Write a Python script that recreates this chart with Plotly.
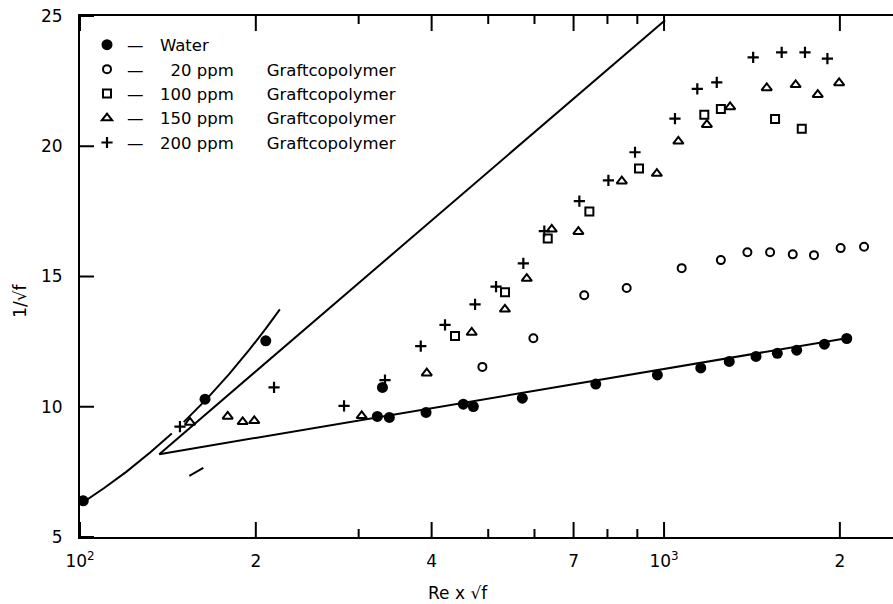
import plotly.graph_objects as go

# ---- data ----
water_x = [101.3, 163.7, 208, 322.9, 329.5, 338.6, 391.3, 453.2, 471.5, 571.9, 764, 974,
           1155.7, 1293, 1437, 1563, 1687, 1882, 2055]
water_y = [6.39, 10.29, 12.53, 9.63, 10.74, 9.59, 9.78, 10.10, 10.01, 10.33, 10.87, 11.22,
           11.49, 11.74, 11.93, 12.05, 12.17, 12.40, 12.62]

ppm20_x = [488.6, 597.4, 730, 863, 1072, 1251, 1389, 1519, 1661, 1806, 2006, 2200]
ppm20_y = [11.53, 12.63, 14.28, 14.56, 15.32, 15.63, 15.93, 15.93, 15.85, 15.82, 16.09, 16.14]

ppm100_x = [438.6, 534.2, 632.2, 745, 906, 1172, 1251, 1549, 1721]
ppm100_y = [12.72, 14.40, 16.46, 17.50, 19.15, 21.21, 21.43, 21.05, 20.67]

ppm150_x = [154.3, 179, 189.9, 198.8, 303.6, 392.4, 468.5, 534, 582, 642.3, 713.4, 846.6,
            972, 1058, 1184, 1297.5, 1499, 1680, 1833, 1994]
ppm150_y = [9.40, 9.63, 9.42, 9.46, 9.65, 11.29, 12.85, 13.74, 14.92, 16.81, 16.72, 18.66,
            18.95, 20.19, 20.83, 21.51, 22.24, 22.36, 21.98, 22.43]

ppm200_x = [148.3, 214.9, 283.2, 332.8, 383.2, 421.7, 474.7, 515.6, 574.2, 623.7, 716.1, 803,
            891.8, 1044, 1140, 1231, 1421, 1590, 1743, 1904]
ppm200_y = [9.24, 10.74, 10.03, 11.02, 12.33, 13.14, 13.93, 14.61, 15.50, 16.74, 17.89, 18.69,
            19.77, 21.06, 22.20, 22.45, 23.41, 23.60, 23.60, 23.36]

# reference curves
laminar_a_x = [100, 110, 120, 132, 143.6]
laminar_a_y = [6.25, 6.88, 7.5, 8.25, 8.97]
laminar_b_x = [150.5, 165, 180, 195, 208, 219.9]
laminar_b_y = [9.41, 10.31, 11.25, 12.19, 13.0, 13.74]
pk_x = [136.7, 2089]
pk_y = [8.18, 12.66]
mdr_x = [136.7, 1004]
mdr_y = [8.18, 24.84]
stray_x = [153.9, 162.6]
stray_y = [7.35, 7.65]

x_range_log = [2, 3.392]
y_range = [5, 25]
x_tickvals = [100, 200, 400, 700, 1000, 2000]
x_ticktext = ["10<sup>2</sup>", "2", "4", "7", "10<sup>3</sup>", "2"]
x_minorvals = [300, 500, 600, 800, 900]
y_tickvals = [5, 10, 15, 20, 25]

series_names = [
    "\u2014\u2003Water",
    "\u2014\u2003\u200720 ppm\u2003\u2003Graftcopolymer",
    "\u2014\u2003100 ppm\u2003\u2003Graftcopolymer",
    "\u2014\u2003150 ppm\u2003\u2003Graftcopolymer",
    "\u2014\u2003200 ppm\u2003\u2003Graftcopolymer",
]

FONT = "DejaVu Sans"
BLACK = "black"
PLOT_TOP, PLOT_BOTTOM, PLOT_LEFT, PLOT_RIGHT = 16, 537, 80, 893
MAJOR_LEN, MINOR_LEN, Y_TICK_LEN = 15, 8, 14

fig = go.Figure()

for lx, ly in [(laminar_a_x, laminar_a_y), (laminar_b_x, laminar_b_y), (pk_x, pk_y),
               (mdr_x, mdr_y), (stray_x, stray_y)]:
    fig.add_trace(go.Scatter(x=lx, y=ly, mode="lines", line=dict(color=BLACK, width=2),
                             showlegend=False, hoverinfo="skip"))

fig.add_trace(go.Scatter(x=water_x, y=water_y, mode="markers", name=series_names[0],
                         marker=dict(symbol="circle", size=11, color=BLACK)))
fig.add_trace(go.Scatter(x=ppm20_x, y=ppm20_y, mode="markers", name=series_names[1],
                         marker=dict(symbol="circle-open", size=8, color=BLACK,
                                     line=dict(width=2, color=BLACK))))
fig.add_trace(go.Scatter(x=ppm100_x, y=ppm100_y, mode="markers", name=series_names[2],
                         marker=dict(symbol="square-open", size=8, color=BLACK,
                                     line=dict(width=2, color=BLACK))))
fig.add_trace(go.Scatter(x=ppm150_x, y=ppm150_y, mode="markers", name=series_names[3],
                         marker=dict(symbol="triangle-up-open", size=9, color=BLACK,
                                     line=dict(width=2, color=BLACK))))
fig.add_trace(go.Scatter(x=ppm200_x, y=ppm200_y, mode="markers", name=series_names[4],
                         marker=dict(symbol="cross-thin", size=8, color=BLACK,
                                     line=dict(width=2.2, color=BLACK))))

# inward tick marks (bottom & top of x axis, left y axis), placed at the tick values
tick_line = dict(color=BLACK, width=2)
shapes = []
for vals, length in [(x_tickvals, MAJOR_LEN), (x_minorvals, MINOR_LEN)]:
    for v in vals:
        shapes.append(dict(type="line", xref="x", yref="paper", ysizemode="pixel",
                           yanchor=0, x0=v, x1=v, y0=0, y1=length, line=tick_line))
        shapes.append(dict(type="line", xref="x", yref="paper", ysizemode="pixel",
                           yanchor=1, x0=v, x1=v, y0=0, y1=-length, line=tick_line))
for v in y_tickvals:
    shapes.append(dict(type="line", xref="paper", yref="y", xsizemode="pixel",
                       xanchor=0, x0=0, x1=Y_TICK_LEN, y0=v, y1=v, line=tick_line))

annotations = [
    dict(text="Re x \u221af", xref="paper", yref="paper", x=0.465, y=-0.108,
         xanchor="center", yanchor="middle", showarrow=False,
         font=dict(family=FONT, size=17, color=BLACK)),
    dict(text="1/\u221af", xref="paper", yref="paper", x=-0.074, y=0.453,
         xanchor="center", yanchor="middle", showarrow=False, textangle=-90,
         font=dict(family=FONT, size=17, color=BLACK)),
]

fig.update_layout(
    width=893, height=604,
    margin=dict(l=PLOT_LEFT, r=0, t=PLOT_TOP, b=604 - PLOT_BOTTOM),
    paper_bgcolor="white", plot_bgcolor="white",
    font=dict(family=FONT, color=BLACK, size=17),
    showlegend=True,
    legend=dict(x=(87 - PLOT_LEFT) / (PLOT_RIGHT - PLOT_LEFT), y=0.978,
                xanchor="left", yanchor="top",
                bgcolor="rgba(0,0,0,0)", borderwidth=0,
                font=dict(family=FONT, size=16.5, color=BLACK),
                tracegroupgap=0, itemwidth=30),
    xaxis=dict(type="log", range=x_range_log, showline=True, linecolor=BLACK, linewidth=2,
               mirror=True, ticks="",
               tickmode="array", tickvals=x_tickvals, ticktext=x_ticktext,
               tickfont=dict(family=FONT, size=17, color=BLACK),
               ticklabelstandoff=8,
               showgrid=False, zeroline=False),
    yaxis=dict(range=y_range, showline=True, linecolor=BLACK, linewidth=2,
               ticks="", tickmode="array", tickvals=y_tickvals,
               tickfont=dict(family=FONT, size=17, color=BLACK),
               ticklabelstandoff=12,
               showgrid=False, zeroline=False),
    shapes=shapes,
    annotations=annotations,
)

fig.write_html("out.html")
